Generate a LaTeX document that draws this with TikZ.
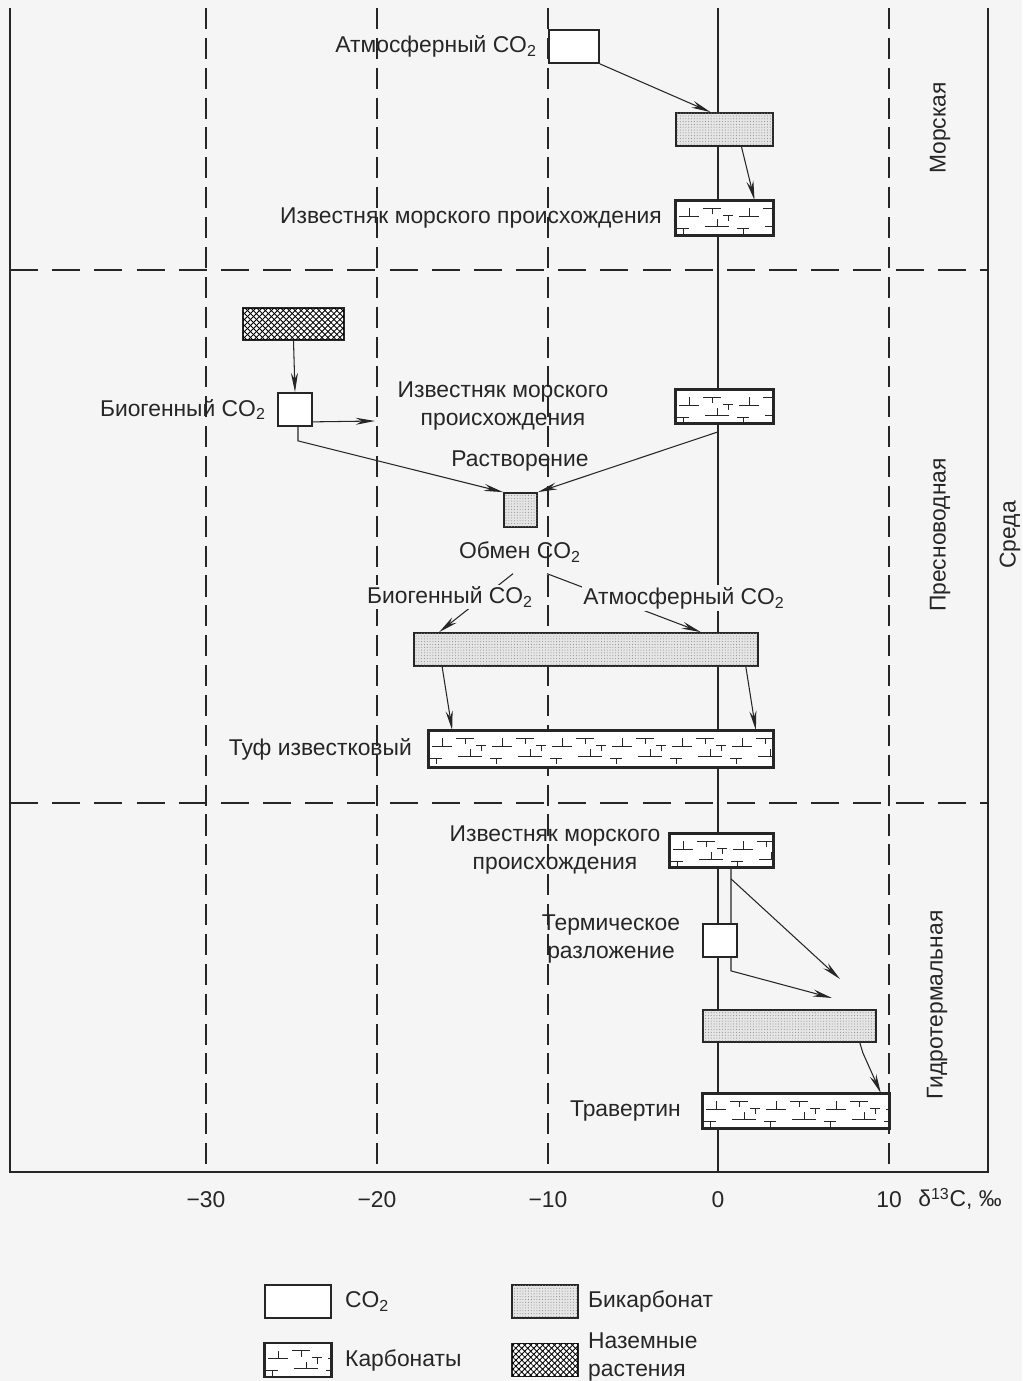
\documentclass[tikz,border=0pt]{standalone}
\usepackage{fontspec}
\setmainfont{Liberation Sans}
\usetikzlibrary{positioning, arrows.meta, calc, patterns.meta}
\definecolor{paper}{RGB}{245,245,245}
\tikzset{
  diagram/.style={
	x=0.02cm, y=-0.02cm, % one unit is one pixel of the figure, y runs down
	color=black!85,
	font=\fontsize{13}{15.5}\selectfont,
	>={Stealth[length=11pt,width=4pt]}, % long narrow heads
	every node/.style={inner sep=0pt},
  },
  frame/.style={line width=0.8pt},
  vgrid/.style={line width=0.7pt, dash pattern=on 12pt off 5pt},
  hgrid/.style={line width=0.7pt, dash pattern=on 16pt off 8pt},
  arr/.style={->, line width=0.6pt},
  link/.style={line width=0.6pt},
  box/.style={draw, line width=1pt, fill=white, inner sep=0pt},
  gasbox/.style={box}, % CO2
  bicbox/.style={box, fill=black!10,
	postaction={pattern={Dots[distance=1.6pt,radius=0.3pt]}, pattern color=black!45}},
  plantbox/.style={box,
	postaction={pattern={Lines[angle=45,distance=2.4pt,line width=0.5pt]}},
	postaction={pattern={Lines[angle=-45,distance=2.4pt,line width=0.5pt]}}},
  carbbox/.style={box},
  lbl/.style={align=center},
  cut/.style={fill=paper, inner sep=1pt}, % label lying over a connector
}
% limestone marks inside a carbonate box
\newcommand{\limefill}[1]{%
  \begin{scope}
	\clip (#1.south west) rectangle (#1.north east);
	\begin{scope}[shift={(#1.north west)}, line width=0.5pt]
	  \foreach \u in {0,60,...,360}
		\draw (\u+4,16) -- (\u+24,16) (\u+14,16) -- (\u+14,8)
			  (\u+28,8) -- (\u+46,8) (\u+37,8) -- (\u+37,14)
			  (\u+30,26) -- (\u+54,26) (\u+42,26) -- (\u+42,19)
			  (\u+2,28) -- (\u+14,28) (\u+8,28) -- (\u+8,34)
			  (\u+48,15) -- (\u+58,15) (\u+53,15) -- (\u+53,21);
	\end{scope}
  \end{scope}
  \draw[line width=1pt] (#1.south west) rectangle (#1.north east);}
\begin{document}
\begin{tikzpicture}[diagram]
\useasboundingbox[fill=paper] (0,0) rectangle (1022,1381);

% frame, zero line and grid
\draw[frame] (10,8) -- (10,1172) -- (988,1172) -- (988,8);
\foreach \xv in {206,377,548,889} \draw[vgrid] (\xv,8) -- (\xv,1172);
\draw[frame] (718,8) -- (718,1172);
\foreach \yv in {270,803} \draw[hgrid] (10,\yv) -- (988,\yv);

% scale
\foreach \xv/\tv [count=\i] in {206/−30, 377/−20, 548/−10, 718/0, 889/10}
  \node (tick\i) at (\xv,1200) {\tv};
\node (delta) at (960,1199) {δ\textsuperscript{13}C, ‰};

% environments
\node[rotate=90] (marine) at (940,128) {Морская};
\node[rotate=90] (fresh) at (940,535) {Пресноводная};
\node[rotate=90] (hydro) at (937,1005) {Гидротермальная};
\node[rotate=90] (env) at (1010,535) {Среда};

% marine
\node[gasbox, minimum width=1cm, minimum height=0.66cm] (atm) at (574,46.5) {};
\node[left=0.22cm of atm] (atmtxt) {Атмосферный CO\textsubscript{2}};
\node[bicbox, minimum width=1.94cm, minimum height=0.66cm] (bic1) at (724.5,129.5) {};
\node[carbbox, minimum width=1.94cm, minimum height=0.68cm] (lim1) at (724.5,218) {};
\limefill{lim1}
\node[left=0.26cm of lim1] (lim1txt) {Известняк морского происхождения};

\draw[arr] (atm.south east) -- ($(bic1.north)+(-14,0)$);
\draw[arr] ($(bic1.south)+(17,0)$) -- ($(lim1.north)+(30,0)$);

% freshwater
\node[plantbox, minimum width=2.02cm, minimum height=0.64cm] (plants) at (293.5,324) {};
\node[gasbox, minimum width=0.68cm, minimum height=0.66cm] (bio) at (295,409.5) {};
\node[left=0.22cm of bio] (biotxt) {Биогенный CO\textsubscript{2}};
\node[lbl] (lim2txt) at (503,406) {Известняк морского\\происхождения};
\node[carbbox, minimum width=1.94cm, minimum height=0.66cm] (lim2) at (724.5,406.5) {};
\limefill{lim2}
\node (solv) at (520,461) {Растворение};
\node[bicbox, minimum width=0.66cm, minimum height=0.68cm] (bic2) at (520.5,510) {};
\node (obmen) at (520,552) {Обмен CO\textsubscript{2}};
\node[bicbox, minimum width=6.88cm, minimum height=0.66cm] (bic3) at (586,649.5) {};
\node[carbbox, minimum width=6.88cm, minimum height=0.72cm] (tuf) at (601,749) {};
\limefill{tuf}
\node[left=0.32cm of tuf] (tuftxt) {Туф известковый};

\coordinate (bioend) at (375,421);
\draw[arr] (plants.south) -- (bio.north);
\draw[arr] ($(bio.south east)+(0,-5)$) -- (bioend);
\draw[arr] ($(bio.south)+(3,0)$) -- ++(0,14) -- (bic2.north west);
\draw[arr] ($(lim2.south)+(-6.5,8)$) -- (bic2.north east);
\draw[arr] ($(obmen.south)+(-7,11)$) -- ($(bic3.north west)+(26,0)$);
\draw[arr] ($(obmen.south)+(27,11)$) -- ($(bic3.north east)+(-58,0)$);
\node[cut] (biox) at (450,597) {Биогенный CO\textsubscript{2}};
\node[cut] (atmx) at (684,598) {Атмосферный CO\textsubscript{2}};
\draw[arr] ($(bic3.south west)+(29,0)$) -- ($(tuf.north west)+(24,0)$);
\draw[arr] ($(bic3.south east)+(-13,0)$) -- ($(tuf.north east)+(-18,0)$);

% hydrothermal
\node[carbbox, minimum width=2.06cm, minimum height=0.66cm] (lim3) at (721.5,850.5) {};
\limefill{lim3}
\node[lbl] (lim3txt) at (555,850) {Известняк морского\\происхождения};
\node[gasbox, minimum width=0.68cm, minimum height=0.66cm] (therm) at (720,940.5) {};
\node[lbl] (thermtxt) at (611,939) {Термическое\\разложение};
\node[bicbox, minimum width=3.46cm, minimum height=0.64cm] (bic4) at (789.5,1026) {};
\node[carbbox, minimum width=3.72cm, minimum height=0.68cm] (trav) at (796,1111) {};
\limefill{trav}
\node[left=0.42cm of trav] (travtxt) {Травертин};

\coordinate (hot1) at (840,979);
\coordinate (hot2) at (832,998);
\draw[link] ($(lim3.south)+(9.5,0)$) -- ($(therm.north)+(11,0)$);
\draw[arr] ($(lim3.south)+(9.5,11)$) -- (hot1);
\draw[arr] ($(therm.south)+(11,0)$) -- ++(0,13) -- (hot2);
\draw[arr] ($(bic4.south east)+(-17,0)$) -- ++(3,10) -- ($(trav.north east)+(-9,0)$);

% legend
\node[gasbox, minimum width=1.32cm, minimum height=0.66cm] (keygas) at (298,1301.5) {};
\node[right=0.26cm of keygas] (keygastxt) {CO\textsubscript{2}};
\node[bicbox, minimum width=1.32cm, minimum height=0.66cm] (keybic) at (545,1301.5) {};
\node[right=0.18cm of keybic] (keybictxt) {Бикарбонат};
\node[carbbox, minimum width=1.32cm, minimum height=0.66cm] (keycarb) at (298,1360) {};
\limefill{keycarb}
\node[right=0.26cm of keycarb] (keycarbtxt) {Карбонаты};
\node[plantbox, minimum width=1.32cm, minimum height=0.66cm] (keyplant) at (545,1360) {};
\node[right=0.18cm of keyplant, yshift=0.06cm, align=left] (keyplanttxt) {Наземные\\растения};
\end{tikzpicture}
\end{document}
